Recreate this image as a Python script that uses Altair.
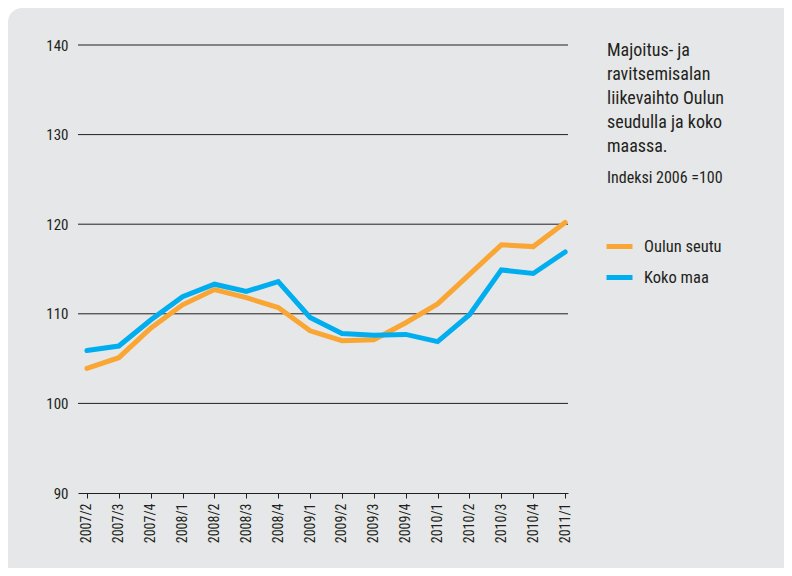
import json
import altair as alt
import pandas as pd

quarters = ["2007/2", "2007/3", "2007/4", "2008/1", "2008/2", "2008/3", "2008/4",
            "2009/1", "2009/2", "2009/3", "2009/4", "2010/1", "2010/2", "2010/3",
            "2010/4", "2011/1"]
oulun_seutu = [103.9, 105.1, 108.4, 111.0, 112.7, 111.8, 110.7, 108.1,
               107.0, 107.1, 109.0, 111.1, 114.4, 117.7, 117.5, 120.2]
koko_maa = [105.9, 106.4, 109.3, 111.9, 113.3, 112.5, 113.6, 109.6,
            107.8, 107.6, 107.7, 106.9, 109.9, 114.9, 114.5, 116.9]
series_names = ["Oulun seutu", "Koko maa"]
series_colors = ["#FAA634", "#00AEEF"]
title_lines = ["Majoitus- ja", "ravitsemisalan", "liikevaihto Oulun",
               "seudulla ja koko", "maassa."]
subtitle = "Indeksi 2006 =100"
y_ticks = [90, 100, 110, 120, 130, 140]

FONT = "Liberation Sans Narrow, Roboto Condensed, DejaVu Sans Condensed, Arial Narrow, sans-serif"
TEXT = "#231F20"
PANEL = "#E6E7E8"

rows = []
for i, q in enumerate(quarters):
    rows.append({"i": i, "q": q, "series": series_names[0], "value": oulun_seutu[i]})
    rows.append({"i": i, "q": q, "series": series_names[1], "value": koko_maa[i]})
df = pd.DataFrame(rows)

label_expr = json.dumps(quarters) + "[datum.value]"

y_scale = alt.Scale(domain=[90, 140], nice=False, zero=False)
y_axis = alt.Axis(values=y_ticks, grid=False, domain=False, ticks=False, labelPadding=10,
                  title=None, zindex=1, labelFontSize=15, labelColor=TEXT, labelFont=FONT)

anchor = pd.DataFrame({"k": [0]})

# decorative panel with rounded top-left corner (covers the whole chart canvas)
panel = alt.Chart(anchor).mark_rect(
    color=PANEL, cornerRadiusTopLeft=14,
).encode(x=alt.value(-70), x2=alt.value(706), y=alt.value(-37), y2=alt.value(523))

# horizontal gridlines at the y tick values, drawn under the lines
grid = alt.Chart(pd.DataFrame({"value": y_ticks[1:]})).mark_rule(
    color="#231F20", strokeWidth=1,
).encode(
    y=alt.Y("value:Q", scale=y_scale, axis=y_axis),
    x=alt.value(0), x2=alt.value(490),
)

lines = alt.Chart(df).mark_line(strokeWidth=5, strokeJoin="miter", strokeCap="round").encode(
    x=alt.X("i:Q",
            scale=alt.Scale(domain=[-0.28, 15.09], nice=False, zero=False),
            axis=alt.Axis(values=list(range(len(quarters))), labelExpr=label_expr,
                          labelAngle=270, labelAlign="right", labelBaseline="middle",
                          labelPadding=5, tickSize=5, tickColor="#231F20",
                          domainColor="#231F20", grid=False, title=None, zindex=1,
                          labelFontSize=14, labelColor=TEXT, labelFont=FONT)),
    y=alt.Y("value:Q", scale=y_scale, axis=y_axis),
    color=alt.Color("series:N",
                    scale=alt.Scale(domain=series_names, range=series_colors),
                    legend=alt.Legend(title=None, orient="none", legendX=526, legendY=186,
                                      symbolType="stroke", symbolStrokeWidth=5,
                                      symbolSize=676, labelOffset=9, rowPadding=5,
                                      labelFontSize=16.5, labelColor=TEXT, labelFont=FONT)),
)

title_text = alt.Chart(anchor).mark_text(
    text=title_lines, align="left", baseline="alphabetic", fontSize=18,
    lineHeight=24, font=FONT, color=TEXT,
).encode(x=alt.value(529), y=alt.value(11))

subtitle_text = alt.Chart(anchor).mark_text(
    text=subtitle, align="left", baseline="alphabetic", fontSize=16,
    font=FONT, color=TEXT,
).encode(x=alt.value(529), y=alt.value(138))

chart = alt.layer(panel, grid, lines, title_text, subtitle_text).properties(
    width=490, height=448,
    padding={"left": 70, "top": 37, "right": 216, "bottom": 75},
    autosize="none",
).configure(
    background="#FFFFFF",
).configure_view(
    stroke=None,
)

chart.save("out.html", embed_options={"renderer": "svg", "actions": False})
